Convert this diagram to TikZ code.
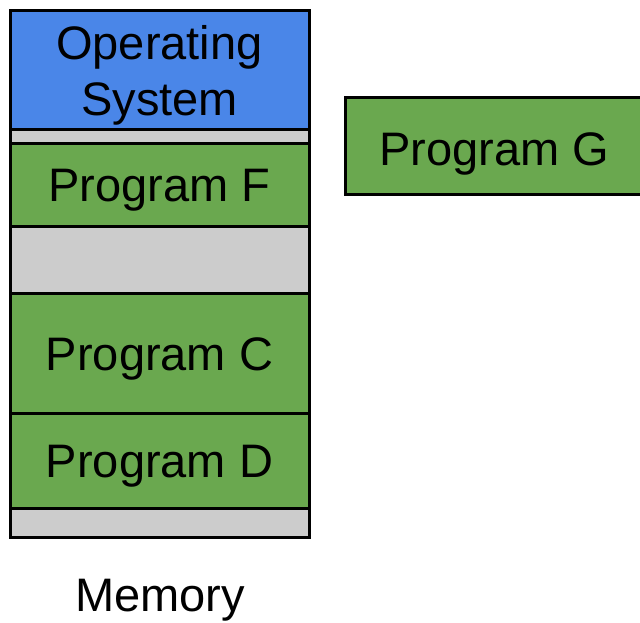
\documentclass[tikz,border=0pt]{standalone}
\usepackage{fontspec}
\setmainfont{Liberation Sans}
\definecolor{osblue}{HTML}{4A86E8}
\definecolor{proggreen}{HTML}{6AA84F}
\definecolor{freegray}{HTML}{CCCCCC}
\begin{document}
\begin{tikzpicture}[x=1pt,y=-1pt,
  seg/.style={draw=black, line width=3pt, anchor=north west, inner sep=0pt, outer sep=0pt,
    minimum width=299pt},
  os/.style={seg, fill=osblue},
  prog/.style={seg, fill=proggreen},
  free/.style={seg, fill=freegray},
  lbl/.style={font=\fontsize{47}{56}\selectfont, inner sep=0pt, align=center},
  inlbl/.style={label={[lbl, yshift=-6pt]center:#1}}]
\useasboundingbox (0,0) rectangle (640,622);
\begin{scope}
\clip (0,0) rectangle (640,622);
\node[os, minimum height=119pt, inlbl={Operating\\System}] (os) at (10,10) {};
\node[free, minimum height=14pt] (g1) at (10,129) {};
\node[prog, minimum height=83pt, inlbl={Program F}] (pf) at (10,143) {};
\node[free, minimum height=67pt] (g2) at (10,226) {};
\node[prog, minimum height=120pt, inlbl={Program C}] (pc) at (10,293) {};
\node[prog, minimum height=95pt, inlbl={Program D}] (pd) at (10,413) {};
\node[free, minimum height=29pt] (g3) at (10,508) {};
\node[prog, minimum width=310pt, minimum height=97pt] (pg) at (345,97) {};
\node[lbl] (pgt) at (494,154) {Program G};
\end{scope}
\node[lbl, anchor=base] (mem) at (160,611) {Memory};
\end{tikzpicture}
\end{document}
